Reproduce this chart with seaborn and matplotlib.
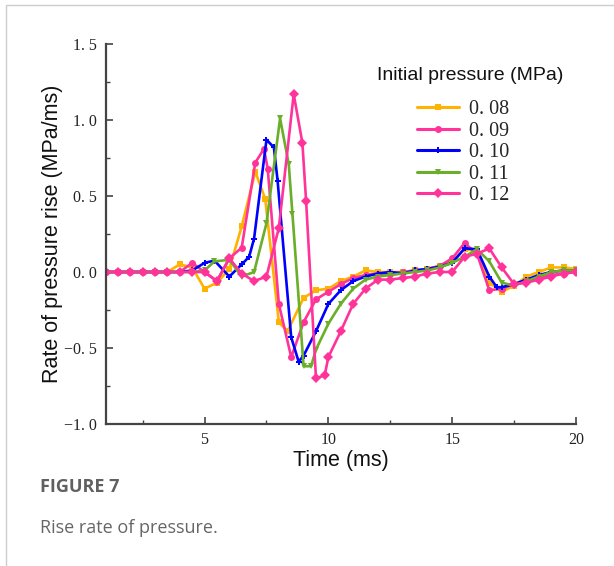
import matplotlib
matplotlib.use("Agg")
import matplotlib.pyplot as plt
import seaborn as sns
import pandas as pd
import numpy as np
from matplotlib.ticker import MultipleLocator, FuncFormatter
from matplotlib.patches import Rectangle

# ---- data ----
series_labels = ["0. 08", "0. 09", "0. 10", "0. 11", "0. 12"]

t_008 = [1, 1.5, 2, 2.5, 3, 3.5, 4, 4.5, 5, 5.5, 6, 6.5, 7.05, 7.45, 8, 8.35, 9, 9.5, 10, 10.5,
         11, 11.5, 12, 12.5, 13, 13.5, 14, 14.5, 15, 15.5, 16, 16.5, 17, 17.5, 18, 18.5, 19, 19.5, 20]
v_008 = [0, 0, 0, 0, 0, 0, 0.05, 0.03, -0.11, -0.07, 0.02, 0.30, 0.66, 0.48, -0.33, -0.39, -0.17, -0.12, -0.11, -0.06,
         -0.03, 0.01, 0.0, 0.0, 0.0, 0.01, 0.02, 0.04, 0.07, 0.15, 0.14, -0.07, -0.13, -0.09, -0.03, 0.0, 0.03, 0.03, 0.02]

t_009 = [1, 1.5, 2, 2.5, 3, 3.5, 4, 4.5, 5, 5.5, 6, 6.5, 7.05, 7.4, 7.55, 8, 8.5, 9, 9.5, 10, 10.5,
         11, 11.5, 12, 12.5, 13, 13.5, 14, 14.5, 15, 15.5, 16, 16.5, 17, 17.5, 18, 18.5, 19, 19.5, 20]
v_009 = [0, 0, 0, 0, 0, 0, 0, 0.06, 0.0, -0.06, 0.09, 0.16, 0.72, 0.81, 0.68, -0.21, -0.56, -0.33, -0.18, -0.13, -0.08,
         -0.04, -0.02, -0.01, -0.01, 0.0, 0.01, 0.02, 0.04, 0.09, 0.19, 0.12, -0.12, -0.11, -0.08, -0.06, -0.04, -0.02, -0.01, 0.0]

t_010 = [1, 1.5, 2, 2.5, 3, 3.5, 4, 4.5, 5, 5.4, 6, 6.5, 6.8, 7, 7.5, 7.8, 7.95, 8.5, 8.8, 9, 9.5, 10, 10.5,
         11, 11.5, 12, 12.5, 13, 13.5, 14, 14.5, 15, 15.5, 16, 16.5, 16.8, 17, 17.5, 18, 18.5, 19, 19.5, 20]
v_010 = [0, 0, 0, 0, 0, 0, 0, 0.01, 0.06, 0.075, -0.03, 0.05, 0.10, 0.22, 0.87, 0.82, 0.60, -0.43, -0.59, -0.55, -0.39, -0.21, -0.12,
         -0.06, -0.03, -0.01, 0.0, -0.01, 0.01, 0.02, 0.035, 0.06, 0.155, 0.15, -0.03, -0.10, -0.10, -0.08, -0.05, -0.02, 0.0, 0.01, 0.01]

t_011 = [1, 1.5, 2, 2.5, 3, 3.5, 4, 4.5, 5, 5.4, 6, 6.5, 7, 7.5, 8.05, 8.4, 8.55, 9, 9.3, 9.5, 10, 10.5,
         11, 11.5, 12, 12.5, 13, 13.5, 14, 14.5, 15, 15.5, 16, 16.5, 17, 17.5, 18, 18.5, 19, 19.5, 20]
v_011 = [0, 0, 0, 0, 0, 0, 0, 0, 0.01, 0.07, 0.08, -0.03, 0.0, 0.32, 1.01, 0.71, 0.38, -0.62, -0.62, -0.51, -0.34, -0.21,
         -0.11, -0.05, -0.03, -0.02, -0.01, 0.0, 0.01, 0.03, 0.06, 0.10, 0.15, 0.07, -0.07, -0.09, -0.06, -0.03, 0.0, 0.01, 0.01]

t_012 = [1, 1.5, 2, 2.5, 3, 3.5, 4, 4.5, 5, 5.5, 6, 6.5, 7, 7.5, 8, 8.6, 8.95, 9.1, 9.5, 9.85, 10, 10.5,
         11, 11.5, 12, 12.5, 13, 13.5, 14, 14.5, 15, 15.5, 16, 16.5, 17, 17.5, 18, 18.5, 19, 19.5, 20]
v_012 = [0, 0, 0, 0, 0, 0, 0, 0, 0, -0.06, 0.09, -0.01, -0.06, -0.03, 0.29, 1.17, 0.85, 0.47, -0.70, -0.68, -0.56, -0.39,
         -0.21, -0.11, -0.05, -0.05, -0.04, -0.03, -0.01, 0.0, 0.0, 0.10, 0.12, 0.155, 0.03, -0.08, -0.07, -0.05, -0.03, -0.01, 0.0]

frames = []
for lab, t, v in zip(series_labels, [t_008, t_009, t_010, t_011, t_012], [v_008, v_009, v_010, v_011, v_012]):
    frames.append(pd.DataFrame({"Time (ms)": t, "rate": v, "Initial pressure (MPa)": lab}))
df = pd.concat(frames, ignore_index=True)

palette = {"0. 08": "#FFB300", "0. 09": "#FF3399", "0. 10": "#0000FF", "0. 11": "#6AAE29", "0. 12": "#FF3399"}
markers = {"0. 08": "s", "0. 09": "o", "0. 10": "P", "0. 11": "v", "0. 12": "D"}

sns.set_style("ticks")
plt.rcParams["font.family"] = ["Liberation Sans", "DejaVu Sans"]

fig = plt.figure(figsize=(6.14, 5.66), dpi=100)
ax = fig.add_axes([105.5 / 614, 1 - 424 / 566, (576 - 105.5) / 614, (424 - 44) / 566])

sns.lineplot(data=df, x="Time (ms)", y="rate", hue="Initial pressure (MPa)", style="Initial pressure (MPa)",
             palette=palette, markers=markers, dashes=False, estimator=None, sort=False,
             linewidth=1.9, markersize=5, markeredgewidth=0, ax=ax)

ax.set_xlim(1, 20)
ax.set_ylim(-1.0, 1.5)
ax.xaxis.set_major_locator(MultipleLocator(5))
ax.xaxis.set_minor_locator(MultipleLocator(2.5))
ax.yaxis.set_major_locator(MultipleLocator(0.5))
ax.yaxis.set_minor_locator(MultipleLocator(0.25))

def yfmt(v, pos):
    s = f"{abs(v):.1f}".replace(".", ". ")
    return ("\u2212" + s) if v < -1e-9 else s

ax.yaxis.set_major_formatter(FuncFormatter(yfmt))
ax.xaxis.set_major_formatter(FuncFormatter(lambda v, p: f"{int(round(v))}"))

for s in ["top", "right"]:
    ax.spines[s].set_visible(False)
for s in ["left", "bottom"]:
    ax.spines[s].set_color("#444444")
    ax.spines[s].set_linewidth(1.6)

ax.tick_params(axis="both", which="major", direction="in", length=5, width=1.2, color="#444444",
               labelsize=11.5, pad=6, labelcolor="#222222")
ax.tick_params(axis="both", which="minor", direction="in", length=3, width=1.0, color="#444444")
for lab in ax.get_xticklabels() + ax.get_yticklabels():
    lab.set_fontfamily(["Liberation Serif", "DejaVu Serif"])

ax.set_xlabel("Time (ms)", fontsize=15.5, labelpad=1, color="#111111")
ax.set_ylabel("Rate of pressure rise (MPa/ms)", fontsize=15.5, labelpad=1, color="#111111")

handles, labels = ax.get_legend_handles_labels()
leg = ax.legend(handles, labels, loc="upper left",
                bbox_to_anchor=(417 / 614, 1 - 100 / 566), bbox_transform=fig.transFigure,
                frameon=False, borderpad=0, borderaxespad=0,
                handlelength=2.1, handletextpad=0.5, labelspacing=0.12,
                prop={"family": ["Liberation Serif", "DejaVu Serif"], "size": 14.5})
for h in leg.legend_handles:
    h.set_linewidth(2.2)
    h.set_markersize(5)
fig.text(470.5 / 614, 1 - 75 / 566, "Initial pressure (MPa)", fontsize=14, color="#111111",
         family=["Liberation Sans", "DejaVu Sans"], ha="center", va="center")

# outer frame of the page
fig.add_artist(Rectangle((6 / 614, -0.1), 1.2, (561 + 56.6) / 566, transform=fig.transFigure,
                         fill=False, edgecolor="#cccccc", linewidth=1.0))

fig.text(40 / 614, 1 - 487 / 566, "FIGURE 7", fontsize=13, fontweight="bold", color="#606060",
         family=["Open Sans", "DejaVu Sans"], va="center", ha="left")
fig.text(40 / 614, 1 - 528 / 566, "Rise rate of pressure.", fontsize=13, color="#666666",
         family=["Open Sans", "DejaVu Sans"], va="center", ha="left")

fig.savefig("out.png", dpi=100)
